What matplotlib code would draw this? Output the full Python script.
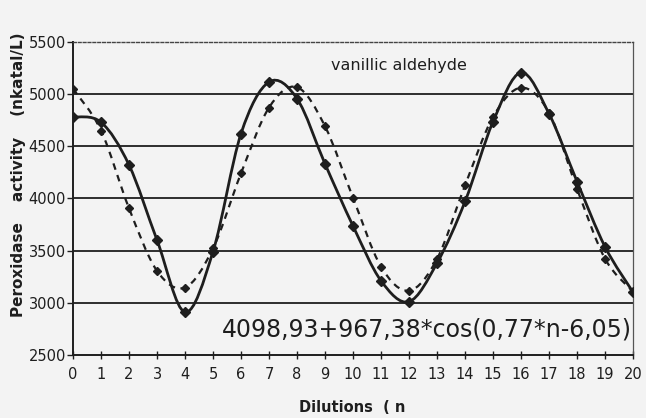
import numpy as np
import matplotlib
matplotlib.use("Agg")
import matplotlib.pyplot as plt
from matplotlib.path import Path
from matplotlib.patches import PathPatch

# Data
dilutions = list(range(0, 21))
measured = [4780, 4730, 4320, 3600, 2910, 3490, 4620, 5115, 4955, 4330, 3735,
            3210, 3010, 3380, 3970, 4735, 5205, 4810, 4160, 3535, 3100]
fitted = [5050, 4650, 3905, 3305, 3145, 3520, 4240, 4870, 5065, 4690, 4005,
          3345, 3115, 3420, 4125, 4780, 5060, 4820, 4090, 3420, 3105]
y_ticks = [2500, 3000, 3500, 4000, 4500, 5000, 5500]
title_text = "vanillic aldehyde"
formula_text = "4098,93+967,38*cos(0,77*n-6,05)"
xlabel_text = "Dilutions  ( n"
ylabel_text = "Peroxidase    activity    (nkatal/L)"

bg = "#f3f3f3"
ink = "#1e1e1e"

fig = plt.figure(figsize=(6.46, 4.18), dpi=100, facecolor=bg)
ax = fig.add_axes([0.113, 0.151, 0.867, 0.749], facecolor=bg)


def smooth_path(x, y):
    x = np.asarray(x, float)
    y = np.asarray(y, float)
    verts = [(x[0], y[0])]
    codes = [Path.MOVETO]
    n = len(x)
    for i in range(n - 1):
        x0, y0 = (x[i - 1], y[i - 1]) if i > 0 else (x[i], y[i])
        x3, y3 = (x[i + 2], y[i + 2]) if i + 2 < n else (x[i + 1], y[i + 1])
        c1 = (x[i] + (x[i + 1] - x0) / 6.0, y[i] + (y[i + 1] - y0) / 6.0)
        c2 = (x[i + 1] - (x3 - x[i]) / 6.0, y[i + 1] - (y3 - y[i]) / 6.0)
        verts += [c1, c2, (x[i + 1], y[i + 1])]
        codes += [Path.CURVE4] * 3
    return Path(verts, codes)


ax.add_patch(PathPatch(smooth_path(dilutions, measured), fill=False,
                       edgecolor=ink, lw=2.0, zorder=4))
ax.add_patch(PathPatch(smooth_path(dilutions, fitted), fill=False,
                       edgecolor=ink, lw=1.6, ls=(0, (3.0, 2.5)), zorder=3))
ax.plot(dilutions, measured, ls="none", marker="D", ms=5.5, color=ink, zorder=5)
ax.plot(dilutions, fitted, ls="none", marker="D", ms=4.5, color=ink, zorder=5)

ax.set_xlim(0, 20)
ax.set_ylim(2500, 5500)
ax.set_xticks(dilutions)
ax.set_yticks(y_ticks)
ax.set_xticklabels([str(d) for d in dilutions], fontsize=10.5, color=ink)
ax.set_yticklabels([str(v) for v in y_ticks], fontsize=10.5, color=ink)
ax.tick_params(axis="x", direction="inout", length=6, width=1.0, pad=6, color=ink)
ax.tick_params(axis="y", direction="out", length=4, width=1.0, pad=1, color=ink)

for v in y_ticks[1:-1]:
    ax.axhline(v, color=ink, lw=1.3, zorder=1)

ax.spines["left"].set_color(ink)
ax.spines["left"].set_linewidth(1.4)
ax.spines["bottom"].set_color(ink)
ax.spines["bottom"].set_linewidth(1.4)
ax.spines["right"].set_color("#555555")
ax.spines["right"].set_linewidth(0.9)
ax.spines["top"].set_color("#444444")
ax.spines["top"].set_linewidth(1.0)
ax.spines["top"].set_linestyle((0, (2, 1.5)))

ax.text(9.2, 5270, title_text, fontsize=11.5, color=ink, ha="left", va="center")
ax.text(5.3, 2740, formula_text, fontsize=17, color=ink, ha="left", va="center")

fig.text(352 / 646, 1 - 408 / 418, xlabel_text, fontsize=10.5, fontweight="bold",
         color=ink, ha="center", va="center")
fig.text(19 / 646, 1 - 175 / 418, ylabel_text, fontsize=11, fontweight="bold",
         color=ink, ha="center", va="center", rotation=90)

fig.savefig("out.png", dpi=100, facecolor=bg)
